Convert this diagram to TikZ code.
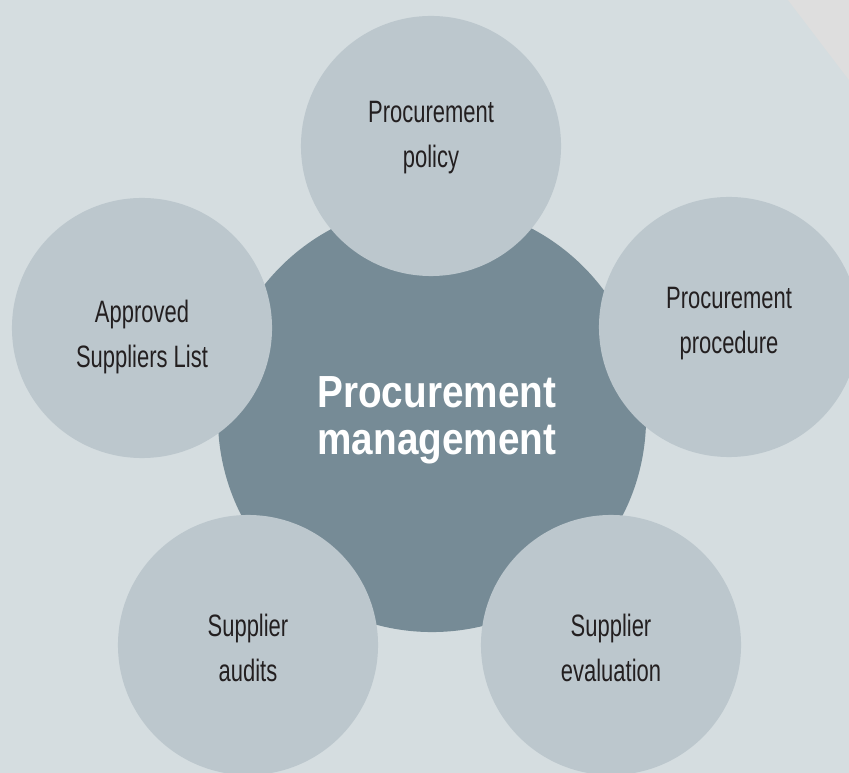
\documentclass[tikz,border=0pt]{standalone}
\usepackage{fontspec}
\setmainfont{Liberation Sans}[FakeStretch=0.71]
\newfontfamily\hubfont{Liberation Sans}[FakeStretch=0.86]
\usepackage{tikz}
\usetikzlibrary{positioning}
\usepackage{xcolor}
\definecolor{bgGrey}{HTML}{D5DDE0}
\definecolor{cornerGrey}{HTML}{DEDEDE}
\definecolor{satGrey}{HTML}{BCC7CD}
\definecolor{hubGrey}{HTML}{768B96}
\definecolor{labelInk}{HTML}{231F20}

\begin{document}
\begin{tikzpicture}[x=0.025cm, y=-0.025cm,
    sat/.style={circle, fill=satGrey, minimum size=6.5cm, inner sep=0pt},
    satText/.style={align=center, text=labelInk, inner sep=0pt,
                    font=\fontsize{22}{32}\selectfont},
    hub/.style={circle, fill=hubGrey, minimum size=10.7cm, inner sep=0pt},
    hubText/.style={align=center, text=white, inner sep=0pt,
                    font=\hubfont\fontsize{32}{33.5}\selectfont\bfseries}]
        \useasboundingbox (0,0) rectangle (849,773);
        \clip (0,0) rectangle (849,773);
        \fill[bgGrey] (0,0) rectangle (849,773);
        \fill[cornerGrey] (788,0) -- (849,0) -- (849,80) -- cycle;
        % centre
        \node[hub] (mgmt) at (432,418) {};
        \node[hubText] (mgmtText) at ([xshift=0.12cm,yshift=-0.05cm]mgmt.center)
          {Procurement\\management};
        % satellites
        \node[sat] (policy) at (431,146) {};
        \node[sat] (procedure) at (729,327) {};
        \node[sat] (evaluation) at (611,645) {};
        \node[sat] (audits) at (248,645) {};
        \node[sat] (asl) at (142,328) {};
        \node[satText] (policyText) at ([yshift=0.2cm]policy.center)
          {Procurement\\policy};
        \node[satText] (procedureText) at ([yshift=0.08cm]procedure.center)
          {Procurement\\procedure};
        \node[satText] (evaluationText) at ([yshift=-0.08cm]evaluation.center)
          {Supplier\\evaluation};
        \node[satText] (auditsText) at ([yshift=-0.08cm]audits.center)
          {Supplier\\audits};
        \node[satText] (aslText) at ([yshift=-0.22cm]asl.center)
          {Approved\\Suppliers List};
      \end{tikzpicture}
\end{document}
